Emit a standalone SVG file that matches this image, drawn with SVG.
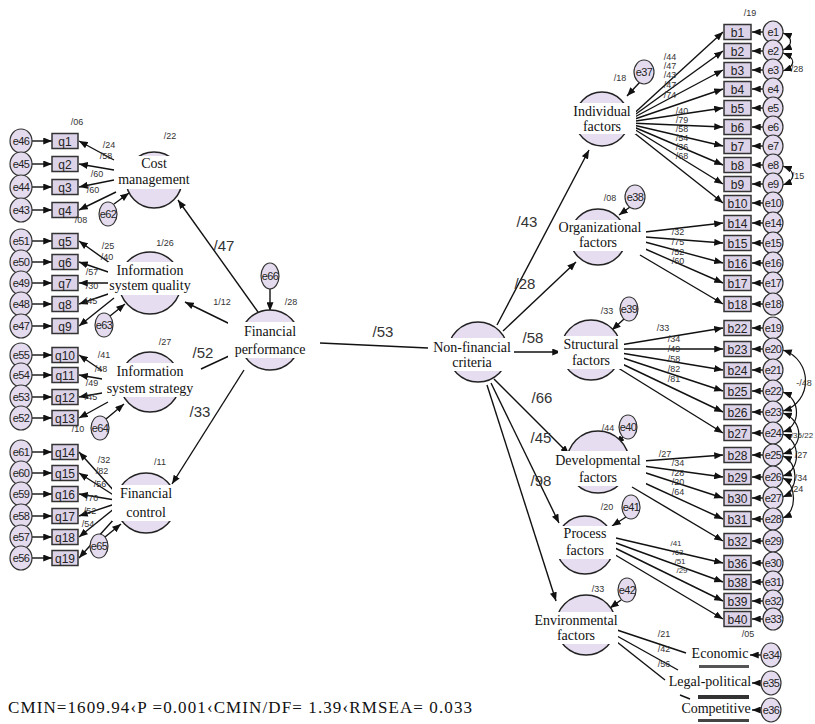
<svg xmlns="http://www.w3.org/2000/svg" width="815" height="724" viewBox="0 0 815 724">
<style>
.bg{fill:#fff}
.lat{fill:#e6def0;stroke:#222;stroke-width:1.5}
.band{fill:#fff}
.box{fill:#ddd3e8;stroke:#333;stroke-width:1.5}
.err{fill:#e4dcee;stroke:#333;stroke-width:1.2}
.t{font-family:"Liberation Serif",serif;font-size:14px;text-anchor:middle;fill:#111}
.bl{font-family:"Liberation Sans",sans-serif;font-size:12px;text-anchor:middle;fill:#222}
.el{font-family:"Liberation Sans",sans-serif;font-size:11px;text-anchor:middle;fill:#222;letter-spacing:-0.6px}
.sm{font-family:"Liberation Sans Narrow","Liberation Sans",sans-serif;font-size:9px;text-anchor:middle;fill:#333}
.xs{font-family:"Liberation Sans Narrow","Liberation Sans",sans-serif;font-size:8px;text-anchor:middle;fill:#333}
.pl{font-family:"Liberation Sans Narrow","Liberation Sans",sans-serif;font-size:15px;text-anchor:middle;fill:#333}
.c{stroke:#111;stroke-width:1.4;fill:none;marker-end:url(#ah)}
.n{stroke:#111;stroke-width:1.4;fill:none}
.cv{stroke:#111;stroke-width:1.2;fill:none;marker-start:url(#ah);marker-end:url(#ah)}
.st{font-family:"Liberation Serif",serif;font-size:17px;fill:#111}
</style>
<defs>
<marker id="ah" viewBox="0 0 10 8" refX="10" refY="4" markerWidth="9" markerHeight="7" markerUnits="userSpaceOnUse" orient="auto-start-reverse"><path d="M0,0L10,4L0,8z" fill="#111"/></marker>
</defs>
<rect class="bg" x="0" y="0" width="815" height="724"/>

<g id="connectors">
<path class="c" d="M32,141H52"/><path class="c" d="M32,164H52"/><path class="c" d="M32,187H52"/><path class="c" d="M32,210H52"/>
<path class="c" d="M32,241H52"/><path class="c" d="M32,262H52"/><path class="c" d="M32,283H52"/><path class="c" d="M32,304H52"/><path class="c" d="M32,326H52"/>
<path class="c" d="M32,355H52"/><path class="c" d="M32,375H52"/><path class="c" d="M32,397H52"/><path class="c" d="M32,418H52"/>
<path class="c" d="M32,452H52"/><path class="c" d="M32,473H52"/><path class="c" d="M32,494H52"/><path class="c" d="M32,516H52"/><path class="c" d="M32,537H52"/><path class="c" d="M32,558H52"/>
<path class="c" d="M114,160L79,141"/><path class="c" d="M114,170L79,164"/><path class="c" d="M114,180L79,187"/><path class="c" d="M116,192L79,210"/>
<path class="c" d="M114,266L79,241"/><path class="c" d="M114,274L79,262"/><path class="c" d="M117,283L79,283"/><path class="c" d="M114,292L79,304"/><path class="c" d="M114,298L79,326"/>
<path class="c" d="M104,372L79,355"/><path class="c" d="M108,380L79,375"/><path class="c" d="M108,392L79,397"/><path class="c" d="M108,402L79,418"/>
<path class="c" d="M115,492L79,452"/><path class="c" d="M115,496L79,473"/><path class="c" d="M115,500L79,494"/><path class="c" d="M115,504L79,516"/><path class="c" d="M115,508L79,537"/><path class="c" d="M115,518L79,558"/>
<path class="c" d="M114,204L129,193"/><path class="c" d="M110,316L125,304"/><path class="c" d="M106,419L124,404"/><path class="c" d="M105,537L121,524"/>
<path class="c" d="M270,288V311"/>
<path class="c" d="M258,312L178,200"/>
<path class="c" d="M232,325L185,302"/>
<path class="n" d="M229,356L201,369"/>
<path class="c" d="M244,370L172,484"/>
<path class="n" d="M320,343L428,348"/>
<path class="c" d="M497,325L589,150"/>
<path class="c" d="M503,331L576,262"/>
<path class="c" d="M514,352L561,352"/>
<path class="c" d="M494,379L569,454"/>
<path class="c" d="M491,383L559,523"/>
<path class="c" d="M487,385L556,601"/>
<path class="c" d="M640,82L627,96"/><path class="c" d="M630,207L619,215"/><path class="c" d="M624,319L612,330"/>
<path class="c" d="M623,437L616,444"/><path class="c" d="M626,517L612,526"/><path class="c" d="M621,600L610,608"/>
<path class="c" d="M629,118L723,32"/><path class="c" d="M629,119L723,51"/><path class="c" d="M629,120L723,70"/><path class="c" d="M629,121L723,89"/><path class="c" d="M629,122L723,108"/>
<path class="c" d="M629,123L723,127"/><path class="c" d="M629,124L723,146"/><path class="c" d="M629,125L723,165"/><path class="c" d="M629,126L723,184"/><path class="c" d="M628,128L723,203"/>
<path class="c" d="M645,232L723,223"/><path class="c" d="M645,237L723,243"/><path class="c" d="M645,242L723,263"/><path class="c" d="M643,248L723,283"/><path class="c" d="M640,255L723,304"/>
<path class="c" d="M620,345L723,328"/><path class="c" d="M621,349L723,349"/><path class="c" d="M621,353L723,370"/><path class="c" d="M620,357L723,391"/><path class="c" d="M618,362L723,412"/><path class="c" d="M615,366L723,433"/>
<path class="c" d="M643,461L723,455"/><path class="c" d="M643,466L723,477"/><path class="c" d="M643,472L723,498"/><path class="c" d="M638,480L723,519"/><path class="c" d="M632,487L723,541"/>
<path class="c" d="M616,538L723,563"/><path class="c" d="M616,543L723,582"/><path class="c" d="M615,548L723,601"/><path class="c" d="M612,553L723,619"/>
<path class="n" d="M617,630L686,653"/><path class="n" d="M617,636L678,670"/><path class="n" d="M617,642L665,680"/><path class="n" d="M680,695L690,699"/>
<path class="c" d="M761,655H750"/><path class="c" d="M761,683H752"/><path class="c" d="M761,710H752"/>
<path class="c" d="M763,32H752"/><path class="c" d="M763,51H752"/><path class="c" d="M763,70H752"/><path class="c" d="M763,89H752"/><path class="c" d="M763,108H752"/>
<path class="c" d="M763,127H752"/><path class="c" d="M763,146H752"/><path class="c" d="M763,165H752"/><path class="c" d="M763,184H752"/><path class="c" d="M763,203H752"/>
<path class="c" d="M763,223H752"/><path class="c" d="M763,243H752"/><path class="c" d="M763,263H752"/><path class="c" d="M763,283H752"/><path class="c" d="M763,304H752"/>
<path class="c" d="M763,328H752"/><path class="c" d="M763,349H752"/><path class="c" d="M763,370H752"/><path class="c" d="M763,391H752"/><path class="c" d="M763,412H752"/><path class="c" d="M763,433H752"/>
<path class="c" d="M763,455H752"/><path class="c" d="M763,477H752"/><path class="c" d="M763,498H752"/><path class="c" d="M763,519H752"/><path class="c" d="M763,541H752"/>
<path class="c" d="M763,563H752"/><path class="c" d="M763,582H752"/><path class="c" d="M763,601H752"/><path class="c" d="M763,619H752"/>
<path class="cv" d="M783,33C793,37 793,46 783,50"/>
<path class="cv" d="M783,53C796,58 796,66 783,71"/>
<path class="cv" d="M783,166C796,171 796,180 783,185"/>
<path class="cv" d="M783,350C813,360 813,402 783,411"/>
<path class="cv" d="M783,392C801,399 801,426 783,432"/>
<path class="cv" d="M783,413C804,421 804,447 783,454"/>
<path class="cv" d="M783,434C801,441 801,470 783,476"/>
<path class="cv" d="M783,456C799,463 799,490 783,497"/>
<path class="cv" d="M783,478C797,485 797,512 783,518"/>
</g>

<g id="q1"><ellipse class="err" cx="21" cy="141" rx="11" ry="12"/><text class="el" x="21" y="145">e46</text><rect class="box" x="52" y="133.5" width="26" height="15"/><text class="bl" x="65" y="145.5">q1</text></g>
<g id="q2"><ellipse class="err" cx="21" cy="164" rx="11" ry="12"/><text class="el" x="21" y="168">e45</text><rect class="box" x="52" y="156.5" width="26" height="15"/><text class="bl" x="65" y="168.5">q2</text></g>
<g id="q3"><ellipse class="err" cx="21" cy="187" rx="11" ry="12"/><text class="el" x="21" y="191">e44</text><rect class="box" x="52" y="179.5" width="26" height="15"/><text class="bl" x="65" y="191.5">q3</text></g>
<g id="q4"><ellipse class="err" cx="21" cy="210" rx="11" ry="12"/><text class="el" x="21" y="214">e43</text><rect class="box" x="52" y="202.5" width="26" height="15"/><text class="bl" x="65" y="214.5">q4</text></g>
<g id="q5"><ellipse class="err" cx="21" cy="241" rx="11" ry="12"/><text class="el" x="21" y="245">e51</text><rect class="box" x="52" y="233.5" width="26" height="15"/><text class="bl" x="65" y="245.5">q5</text></g>
<g id="q6"><ellipse class="err" cx="21" cy="262" rx="11" ry="12"/><text class="el" x="21" y="266">e50</text><rect class="box" x="52" y="254.5" width="26" height="15"/><text class="bl" x="65" y="266.5">q6</text></g>
<g id="q7"><ellipse class="err" cx="21" cy="283" rx="11" ry="12"/><text class="el" x="21" y="287">e49</text><rect class="box" x="52" y="275.5" width="26" height="15"/><text class="bl" x="65" y="287.5">q7</text></g>
<g id="q8"><ellipse class="err" cx="21" cy="304" rx="11" ry="12"/><text class="el" x="21" y="308">e48</text><rect class="box" x="52" y="296.5" width="26" height="15"/><text class="bl" x="65" y="308.5">q8</text></g>
<g id="q9"><ellipse class="err" cx="21" cy="326" rx="11" ry="12"/><text class="el" x="21" y="330">e47</text><rect class="box" x="52" y="318.5" width="26" height="15"/><text class="bl" x="65" y="330.5">q9</text></g>
<g id="q10"><ellipse class="err" cx="21" cy="355" rx="11" ry="12"/><text class="el" x="21" y="359">e55</text><rect class="box" x="52" y="347.5" width="26" height="15"/><text class="bl" x="65" y="359.5">q10</text></g>
<g id="q11"><ellipse class="err" cx="21" cy="375" rx="11" ry="12"/><text class="el" x="21" y="379">e54</text><rect class="box" x="52" y="367.5" width="26" height="15"/><text class="bl" x="65" y="379.5">q11</text></g>
<g id="q12"><ellipse class="err" cx="21" cy="397" rx="11" ry="12"/><text class="el" x="21" y="401">e53</text><rect class="box" x="52" y="389.5" width="26" height="15"/><text class="bl" x="65" y="401.5">q12</text></g>
<g id="q13"><ellipse class="err" cx="21" cy="418" rx="11" ry="12"/><text class="el" x="21" y="422">e52</text><rect class="box" x="52" y="410.5" width="26" height="15"/><text class="bl" x="65" y="422.5">q13</text></g>
<g id="q14"><ellipse class="err" cx="21" cy="452" rx="11" ry="12"/><text class="el" x="21" y="456">e61</text><rect class="box" x="52" y="444.5" width="26" height="15"/><text class="bl" x="65" y="456.5">q14</text></g>
<g id="q15"><ellipse class="err" cx="21" cy="473" rx="11" ry="12"/><text class="el" x="21" y="477">e60</text><rect class="box" x="52" y="465.5" width="26" height="15"/><text class="bl" x="65" y="477.5">q15</text></g>
<g id="q16"><ellipse class="err" cx="21" cy="494" rx="11" ry="12"/><text class="el" x="21" y="498">e59</text><rect class="box" x="52" y="486.5" width="26" height="15"/><text class="bl" x="65" y="498.5">q16</text></g>
<g id="q17"><ellipse class="err" cx="21" cy="516" rx="11" ry="12"/><text class="el" x="21" y="520">e58</text><rect class="box" x="52" y="508.5" width="26" height="15"/><text class="bl" x="65" y="520.5">q17</text></g>
<g id="q18"><ellipse class="err" cx="21" cy="537" rx="11" ry="12"/><text class="el" x="21" y="541">e57</text><rect class="box" x="52" y="529.5" width="26" height="15"/><text class="bl" x="65" y="541.5">q18</text></g>
<g id="q19"><ellipse class="err" cx="21" cy="558" rx="11" ry="12"/><text class="el" x="21" y="562">e56</text><rect class="box" x="52" y="550.5" width="26" height="15"/><text class="bl" x="65" y="562.5">q19</text></g>

<g id="cost-management"><circle class="lat" cx="154" cy="180" r="28"/><rect class="band" x="116" y="156" width="76" height="33"/><text class="t" x="154" y="168">Cost</text><text class="t" x="154" y="184">management</text>
<ellipse class="err" cx="108" cy="214" rx="9" ry="12"/><text class="el" x="108" y="218">e62</text></g>
<g id="is-quality"><circle class="lat" cx="150" cy="283" r="31"/><rect class="band" x="108" y="262" width="86" height="33"/><text class="t" x="150" y="275">Information</text><text class="t" x="150" y="290">system quality</text>
<ellipse class="err" cx="104" cy="325" rx="9" ry="12"/><text class="el" x="104" y="329">e63</text></g>
<g id="is-strategy"><circle class="lat" cx="150" cy="382" r="30"/><rect class="band" x="102" y="363" width="96" height="34"/><text class="t" x="150" y="376">Information</text><text class="t" x="150" y="393">system strategy</text>
<ellipse class="err" cx="100" cy="428" rx="9" ry="12"/><text class="el" x="100" y="432">e64</text></g>
<g id="financial-control"><circle class="lat" cx="146" cy="503" r="30"/><rect class="band" x="112" y="485" width="68" height="36"/><text class="t" x="146" y="498">Financial</text><text class="t" x="146" y="517">control</text>
<ellipse class="err" cx="99" cy="546" rx="9" ry="12"/><text class="el" x="99" y="550">e65</text></g>
<g id="financial-performance"><circle class="lat" cx="270" cy="340" r="30"/><rect class="band" x="228" y="322" width="84" height="36"/><text class="t" x="270" y="336">Financial</text><text class="t" x="270" y="354">performance</text>
<ellipse class="err" cx="270" cy="276" rx="9" ry="13"/><text class="el" x="270" y="280">e66</text></g>
<g id="non-financial"><circle class="lat" cx="478" cy="352" r="30"/><rect class="band" x="432" y="338" width="80" height="33"/><text class="t" x="472" y="352">Non-financial</text><text class="t" x="472" y="367">criteria</text></g>

<g id="individual"><circle class="lat" cx="602" cy="119" r="27"/><rect class="band" x="568" y="103" width="68" height="31"/><text class="t" x="602" y="116">Individual</text><text class="t" x="602" y="131">factors</text>
<ellipse class="err" cx="644" cy="72" rx="10" ry="12"/><text class="el" x="644" y="76">e37</text></g>
<g id="organizational"><circle class="lat" cx="598" cy="237" r="28"/><rect class="band" x="556" y="220" width="90" height="31"/><text class="t" x="600" y="232">Organizational</text><text class="t" x="598" y="247">factors</text>
<ellipse class="err" cx="635" cy="197" rx="10" ry="12"/><text class="el" x="635" y="201">e38</text></g>
<g id="structural"><circle class="lat" cx="591" cy="350" r="30"/><rect class="band" x="558" y="336" width="66" height="33"/><text class="t" x="591" y="349">Structural</text><text class="t" x="591" y="365">factors</text>
<ellipse class="err" cx="629" cy="309" rx="9" ry="12"/><text class="el" x="629" y="313">e39</text></g>
<g id="developmental"><circle class="lat" cx="598" cy="462" r="31"/><rect class="band" x="552" y="451" width="94" height="35"/><text class="t" x="598" y="465">Developmental</text><text class="t" x="598" y="482">factors</text>
<ellipse class="err" cx="628" cy="427" rx="9" ry="12"/><text class="el" x="628" y="431">e40</text></g>
<g id="process"><circle class="lat" cx="585" cy="545" r="29"/><rect class="band" x="554" y="526" width="62" height="33"/><text class="t" x="585" y="538">Process</text><text class="t" x="585" y="555">factors</text>
<ellipse class="err" cx="631" cy="507" rx="9" ry="12"/><text class="el" x="631" y="511">e41</text></g>
<g id="environmental"><circle class="lat" cx="586" cy="625" r="30"/><rect class="band" x="534" y="612" width="84" height="32"/><text class="t" x="576" y="625">Environmental</text><text class="t" x="576" y="640">factors</text>
<ellipse class="err" cx="627" cy="590" rx="9" ry="12"/><text class="el" x="627" y="594">e42</text></g>

<g id="b1"><rect class="box" x="724" y="24.5" width="27" height="15"/><text class="bl" x="737.5" y="36.5">b1</text><ellipse class="err" cx="773" cy="32" rx="10" ry="11"/><text class="el" x="773" y="36">e1</text></g>
<g id="b2"><rect class="box" x="724" y="43.5" width="27" height="15"/><text class="bl" x="737.5" y="55.5">b2</text><ellipse class="err" cx="773" cy="51" rx="10" ry="11"/><text class="el" x="773" y="55">e2</text></g>
<g id="b3"><rect class="box" x="724" y="62.5" width="27" height="15"/><text class="bl" x="737.5" y="74.5">b3</text><ellipse class="err" cx="773" cy="70" rx="10" ry="11"/><text class="el" x="773" y="74">e3</text></g>
<g id="b4"><rect class="box" x="724" y="81.5" width="27" height="15"/><text class="bl" x="737.5" y="93.5">b4</text><ellipse class="err" cx="773" cy="89" rx="10" ry="11"/><text class="el" x="773" y="93">e4</text></g>
<g id="b5"><rect class="box" x="724" y="100.5" width="27" height="15"/><text class="bl" x="737.5" y="112.5">b5</text><ellipse class="err" cx="773" cy="108" rx="10" ry="11"/><text class="el" x="773" y="112">e5</text></g>
<g id="b6"><rect class="box" x="724" y="119.5" width="27" height="15"/><text class="bl" x="737.5" y="131.5">b6</text><ellipse class="err" cx="773" cy="127" rx="10" ry="11"/><text class="el" x="773" y="131">e6</text></g>
<g id="b7"><rect class="box" x="724" y="138.5" width="27" height="15"/><text class="bl" x="737.5" y="150.5">b7</text><ellipse class="err" cx="773" cy="146" rx="10" ry="11"/><text class="el" x="773" y="150">e7</text></g>
<g id="b8"><rect class="box" x="724" y="157.5" width="27" height="15"/><text class="bl" x="737.5" y="169.5">b8</text><ellipse class="err" cx="773" cy="165" rx="10" ry="11"/><text class="el" x="773" y="169">e8</text></g>
<g id="b9"><rect class="box" x="724" y="176.5" width="27" height="15"/><text class="bl" x="737.5" y="188.5">b9</text><ellipse class="err" cx="773" cy="184" rx="10" ry="11"/><text class="el" x="773" y="188">e9</text></g>
<g id="b10"><rect class="box" x="724" y="195.5" width="27" height="15"/><text class="bl" x="737.5" y="207.5">b10</text><ellipse class="err" cx="773" cy="203" rx="10" ry="11"/><text class="el" x="773" y="207">e10</text></g>
<g id="b14"><rect class="box" x="724" y="215.5" width="27" height="15"/><text class="bl" x="737.5" y="227.5">b14</text><ellipse class="err" cx="773" cy="223" rx="10" ry="11"/><text class="el" x="773" y="227">e14</text></g>
<g id="b15"><rect class="box" x="724" y="235.5" width="27" height="15"/><text class="bl" x="737.5" y="247.5">b15</text><ellipse class="err" cx="773" cy="243" rx="10" ry="11"/><text class="el" x="773" y="247">e15</text></g>
<g id="b16"><rect class="box" x="724" y="255.5" width="27" height="15"/><text class="bl" x="737.5" y="267.5">b16</text><ellipse class="err" cx="773" cy="263" rx="10" ry="11"/><text class="el" x="773" y="267">e16</text></g>
<g id="b17"><rect class="box" x="724" y="275.5" width="27" height="15"/><text class="bl" x="737.5" y="287.5">b17</text><ellipse class="err" cx="773" cy="283" rx="10" ry="11"/><text class="el" x="773" y="287">e17</text></g>
<g id="b18"><rect class="box" x="724" y="296.5" width="27" height="15"/><text class="bl" x="737.5" y="308.5">b18</text><ellipse class="err" cx="773" cy="304" rx="10" ry="11"/><text class="el" x="773" y="308">e18</text></g>
<g id="b22"><rect class="box" x="724" y="320.5" width="27" height="15"/><text class="bl" x="737.5" y="332.5">b22</text><ellipse class="err" cx="773" cy="328" rx="10" ry="11"/><text class="el" x="773" y="332">e19</text></g>
<g id="b23"><rect class="box" x="724" y="341.5" width="27" height="15"/><text class="bl" x="737.5" y="353.5">b23</text><ellipse class="err" cx="773" cy="349" rx="10" ry="11"/><text class="el" x="773" y="353">e20</text></g>
<g id="b24"><rect class="box" x="724" y="362.5" width="27" height="15"/><text class="bl" x="737.5" y="374.5">b24</text><ellipse class="err" cx="773" cy="370" rx="10" ry="11"/><text class="el" x="773" y="374">e21</text></g>
<g id="b25"><rect class="box" x="724" y="383.5" width="27" height="15"/><text class="bl" x="737.5" y="395.5">b25</text><ellipse class="err" cx="773" cy="391" rx="10" ry="11"/><text class="el" x="773" y="395">e22</text></g>
<g id="b26"><rect class="box" x="724" y="404.5" width="27" height="15"/><text class="bl" x="737.5" y="416.5">b26</text><ellipse class="err" cx="773" cy="412" rx="10" ry="11"/><text class="el" x="773" y="416">e23</text></g>
<g id="b27"><rect class="box" x="724" y="425.5" width="27" height="15"/><text class="bl" x="737.5" y="437.5">b27</text><ellipse class="err" cx="773" cy="433" rx="10" ry="11"/><text class="el" x="773" y="437">e24</text></g>
<g id="b28"><rect class="box" x="724" y="447.5" width="27" height="15"/><text class="bl" x="737.5" y="459.5">b28</text><ellipse class="err" cx="773" cy="455" rx="10" ry="11"/><text class="el" x="773" y="459">e25</text></g>
<g id="b29"><rect class="box" x="724" y="469.5" width="27" height="15"/><text class="bl" x="737.5" y="481.5">b29</text><ellipse class="err" cx="773" cy="477" rx="10" ry="11"/><text class="el" x="773" y="481">e26</text></g>
<g id="b30"><rect class="box" x="724" y="490.5" width="27" height="15"/><text class="bl" x="737.5" y="502.5">b30</text><ellipse class="err" cx="773" cy="498" rx="10" ry="11"/><text class="el" x="773" y="502">e27</text></g>
<g id="b31"><rect class="box" x="724" y="511.5" width="27" height="15"/><text class="bl" x="737.5" y="523.5">b31</text><ellipse class="err" cx="773" cy="519" rx="10" ry="11"/><text class="el" x="773" y="523">e28</text></g>
<g id="b32"><rect class="box" x="724" y="533.5" width="27" height="15"/><text class="bl" x="737.5" y="545.5">b32</text><ellipse class="err" cx="773" cy="541" rx="10" ry="11"/><text class="el" x="773" y="545">e29</text></g>
<g id="b36"><rect class="box" x="724" y="555.5" width="27" height="15"/><text class="bl" x="737.5" y="567.5">b36</text><ellipse class="err" cx="773" cy="563" rx="10" ry="11"/><text class="el" x="773" y="567">e30</text></g>
<g id="b38"><rect class="box" x="724" y="574.5" width="27" height="15"/><text class="bl" x="737.5" y="586.5">b38</text><ellipse class="err" cx="773" cy="582" rx="10" ry="11"/><text class="el" x="773" y="586">e31</text></g>
<g id="b39"><rect class="box" x="724" y="593.5" width="27" height="15"/><text class="bl" x="737.5" y="605.5">b39</text><ellipse class="err" cx="773" cy="601" rx="10" ry="11"/><text class="el" x="773" y="605">e32</text></g>
<g id="b40"><rect class="box" x="724" y="611.5" width="27" height="15"/><text class="bl" x="737.5" y="623.5">b40</text><ellipse class="err" cx="773" cy="619" rx="10" ry="11"/><text class="el" x="773" y="623">e33</text></g>

<g id="economic"><text class="t" x="720" y="658">Economic</text><rect x="699" y="665" width="50" height="3" fill="#555"/><ellipse class="err" cx="771" cy="655" rx="10" ry="12"/><text class="el" x="771" y="659">e34</text></g>
<g id="legal-political"><text class="t" x="710" y="686">Legal-political</text><rect x="698" y="695" width="51" height="4" fill="#333"/><ellipse class="err" cx="771" cy="683" rx="10" ry="12"/><text class="el" x="771" y="687">e35</text></g>
<g id="competitive"><text class="t" x="716" y="713">Competitive</text><rect x="698" y="719" width="51" height="3" fill="#444"/><ellipse class="err" cx="771" cy="710" rx="10" ry="12"/><text class="el" x="771" y="714">e36</text></g>

<g id="labels">
<text class="pl" x="224" y="251">/47</text>
<text class="sm" x="222" y="305">1/12</text>
<text class="pl" x="203" y="358">/52</text>
<text class="pl" x="200" y="417">/33</text>
<text class="pl" x="383" y="337">/53</text>
<text class="sm" x="291" y="305">/28</text>
<text class="sm" x="170" y="139">/22</text>
<text class="sm" x="165" y="246">1/26</text>
<text class="sm" x="165" y="345">/27</text>
<text class="sm" x="160" y="465">/11</text>
<text class="sm" x="77" y="125">/06</text>
<text class="sm" x="109" y="148">/24</text>
<text class="sm" x="106" y="159">/58</text>
<text class="sm" x="97" y="177">/60</text>
<text class="sm" x="93" y="193">/60</text>
<text class="sm" x="81" y="223">/08</text>
<text class="sm" x="108" y="249">/25</text>
<text class="sm" x="107" y="260">/40</text>
<text class="sm" x="92" y="275">/57</text>
<text class="sm" x="92" y="289">/30</text>
<text class="sm" x="91" y="304">/45</text>
<text class="sm" x="104" y="358">/41</text>
<text class="sm" x="101" y="372">/48</text>
<text class="sm" x="92" y="386">/49</text>
<text class="sm" x="91" y="400">/45</text>
<text class="sm" x="78" y="432">/10</text>
<text class="sm" x="104" y="463">/32</text>
<text class="sm" x="102" y="474">/82</text>
<text class="sm" x="100" y="487">/56</text>
<text class="sm" x="92" y="501">/70</text>
<text class="sm" x="90" y="514">/52</text>
<text class="sm" x="88" y="527">/54</text>
<text class="pl" x="527" y="227">/43</text>
<text class="pl" x="525" y="289">/28</text>
<text class="pl" x="533" y="343">/58</text>
<text class="pl" x="542" y="403">/66</text>
<text class="pl" x="541" y="443">/45</text>
<text class="pl" x="541" y="486">/98</text>
<text class="sm" x="750" y="16">/19</text>
<text class="sm" x="620" y="81">/18</text>
<text class="sm" x="670" y="60">/44</text>
<text class="sm" x="670" y="69">/47</text>
<text class="sm" x="670" y="78">/43</text>
<text class="sm" x="670" y="88">/47</text>
<text class="sm" x="670" y="98">/74</text>
<text class="sm" x="682" y="114">/40</text>
<text class="sm" x="682" y="123">/79</text>
<text class="sm" x="682" y="132">/58</text>
<text class="sm" x="682" y="141">/54</text>
<text class="sm" x="682" y="150">/36</text>
<text class="sm" x="682" y="159">/68</text>
<text class="sm" x="797" y="72">/28</text>
<text class="sm" x="798" y="179">/15</text>
<text class="sm" x="610" y="201">/08</text>
<text class="sm" x="678" y="235">/32</text>
<text class="sm" x="678" y="245">/75</text>
<text class="sm" x="678" y="255">/52</text>
<text class="sm" x="678" y="264">/60</text>
<text class="sm" x="607" y="314">/33</text>
<text class="sm" x="663" y="331">/33</text>
<text class="sm" x="674" y="342">/34</text>
<text class="sm" x="674" y="352">/49</text>
<text class="sm" x="674" y="362">/58</text>
<text class="sm" x="674" y="372">/82</text>
<text class="sm" x="674" y="382">/81</text>
<text class="sm" x="804" y="386">-/48</text>
<text class="sm" x="608" y="431">/44</text>
<text class="sm" x="665" y="457">/27</text>
<text class="sm" x="678" y="466">/34</text>
<text class="sm" x="678" y="476">/28</text>
<text class="sm" x="678" y="485">/20</text>
<text class="sm" x="678" y="495">/64</text>
<text class="xs" x="802" y="438">/35/22</text>
<text class="sm" x="801" y="458">/27</text>
<text class="sm" x="801" y="481">/34</text>
<text class="sm" x="797" y="492">/24</text>
<text class="sm" x="607" y="510">/20</text>
<text class="xs" x="676" y="546">/41</text>
<text class="xs" x="678" y="555">/63</text>
<text class="xs" x="680" y="564">/51</text>
<text class="xs" x="682" y="573">/29</text>
<text class="sm" x="598" y="592">/33</text>
<text class="sm" x="664" y="637">/21</text>
<text class="sm" x="664" y="652">/42</text>
<text class="sm" x="664" y="667">/56</text>
<text class="sm" x="748" y="637">/05</text>
</g>

<text class="st" x="8" y="713" textLength="464" lengthAdjust="spacing">CMIN=1609.94‹P =0.001‹CMIN/DF= 1.39‹RMSEA= 0.033</text>
</svg>
